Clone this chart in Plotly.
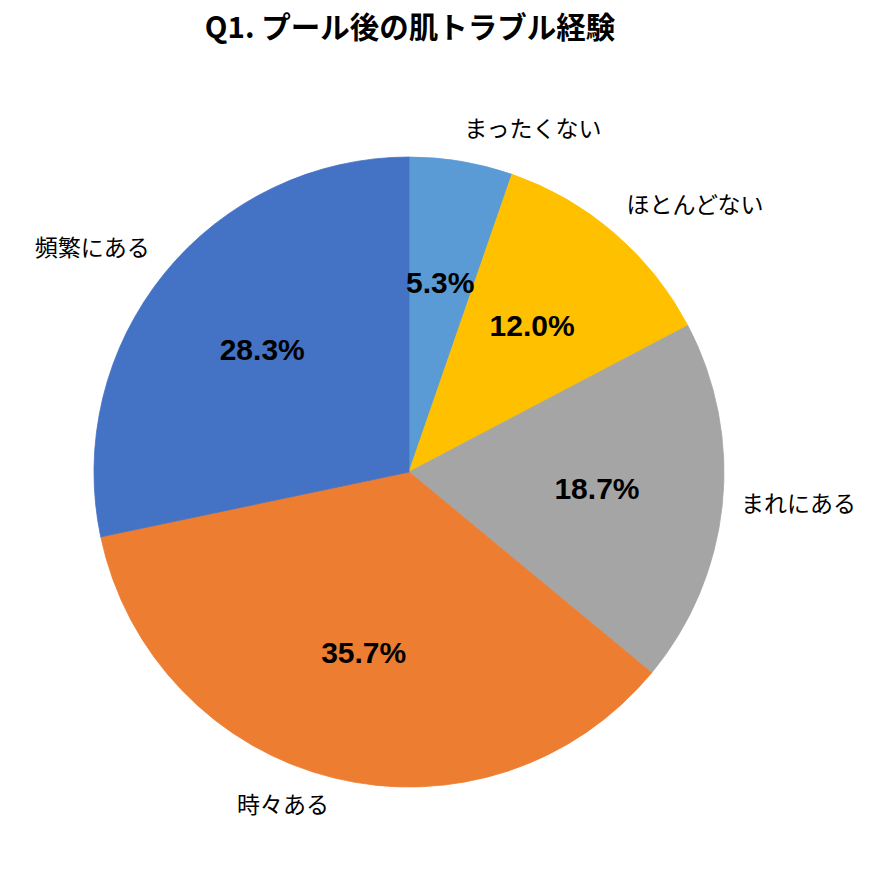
import numpy as np
import plotly.graph_objects as go

categories = ["まったくない", "ほとんどない", "まれにある", "時々ある", "頻繁にある"]
values = [5.3, 12.0, 18.7, 35.7, 28.3]
colors = ["#5B9BD5", "#FFC000", "#A5A5A5", "#ED7D31", "#4472C4"]
title_text = "Q1. プール後の肌トラブル経験"

FONT = "Noto Sans CJK JP"
NUMFONT = "Liberation Sans"

vals = np.array(values, dtype=float)
total = vals.sum()
span = vals / total * 360.0
mid = np.cumsum(span) - span / 2.0
pct_text = [f"{v / total * 100:.1f}%" for v in vals]
label_pos = ["top right", "top right", "middle right", "bottom left", "top left"]

fig = go.Figure()
# pie slices as full wedges
fig.add_trace(go.Barpolar(
    theta=mid, r=[1] * len(vals), width=span, base=0,
    marker=dict(color=colors, line=dict(color=colors, width=0.8)),
    hoverinfo="skip", showlegend=False,
))
# percentages inside
fig.add_trace(go.Scatterpolar(
    theta=mid, r=[0.6] * len(vals), mode="text", text=pct_text,
    textposition="middle center",
    textfont=dict(family=NUMFONT, size=30, color="black", weight="bold"),
    hoverinfo="skip", showlegend=False, cliponaxis=False,
))
# category labels outside
fig.add_trace(go.Scatterpolar(
    theta=mid, r=[1.06] * len(vals), mode="text", text=categories,
    textposition=label_pos,
    textfont=dict(family=FONT, size=23, color="black"),
    hoverinfo="skip", showlegend=False, cliponaxis=False,
))

fig.update_layout(
    width=884, height=883,
    paper_bgcolor="white", plot_bgcolor="white",
    margin=dict(l=0, r=0, t=0, b=0),
    polar=dict(
        domain=dict(x=[0.0260, 0.8812], y=[0.0464, 0.9026]),
        bgcolor="white", bargap=0, hole=0,
        angularaxis=dict(rotation=90, direction="clockwise", visible=False,
                         showgrid=False, showline=False, ticks=""),
        radialaxis=dict(range=[0, 1.2], visible=False, showgrid=False,
                        showline=False, ticks=""),
    ),
    title=dict(text=f"<b>{title_text}</b>", x=0.4548, xref="container", xanchor="center",
               y=0.978, yref="container", yanchor="middle",
               font=dict(family=FONT, size=29.5, color="black", weight=900)),
)
fig.write_html("out.html")
